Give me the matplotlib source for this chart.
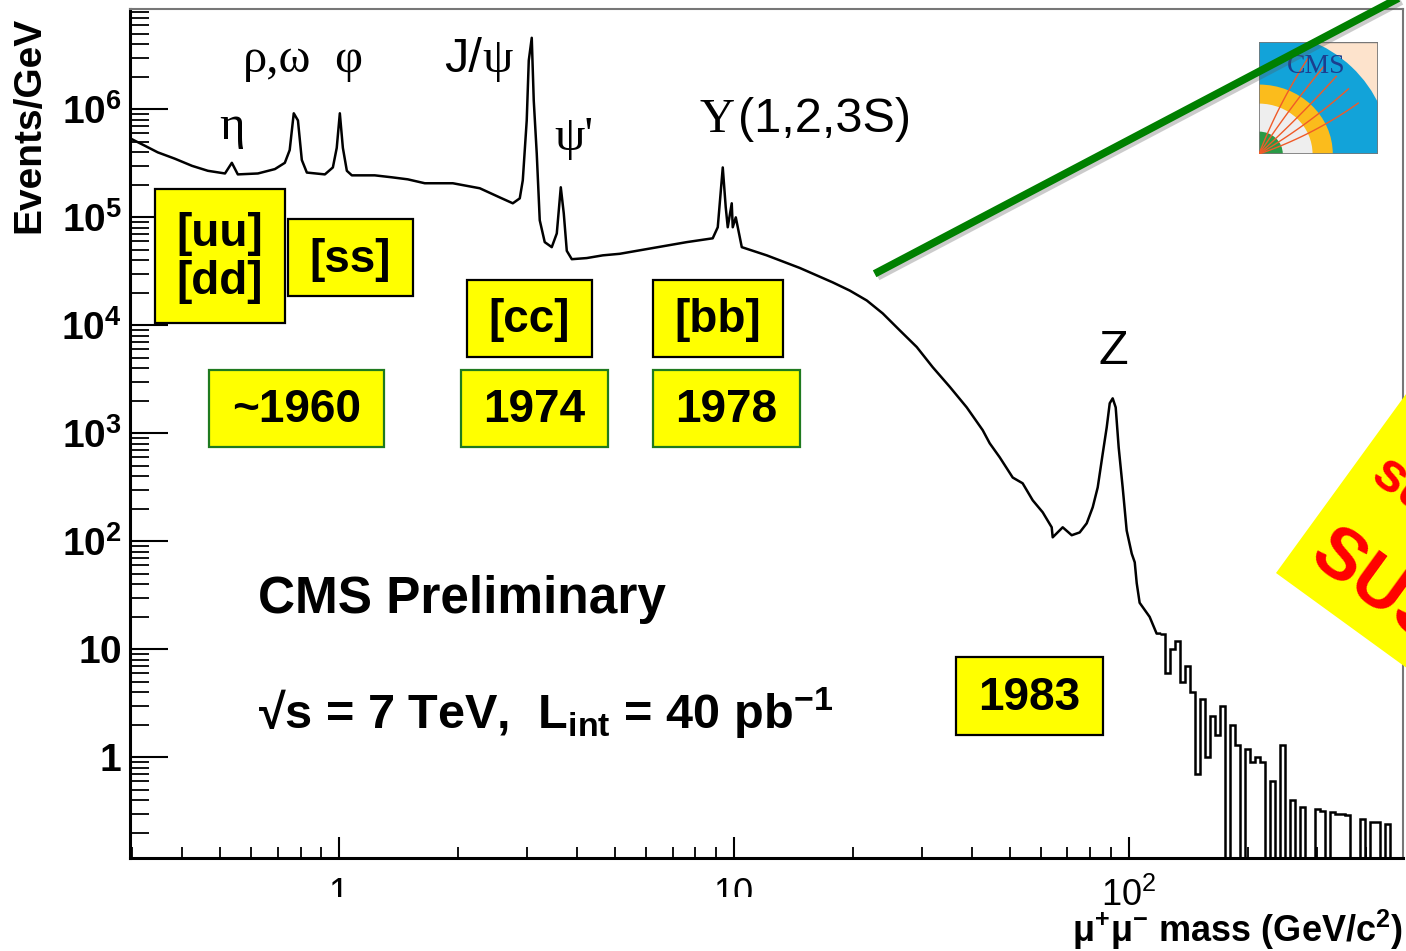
import numpy as np
import matplotlib
matplotlib.use("Agg")
import matplotlib.pyplot as plt
from matplotlib.patches import Rectangle, Polygon, Wedge
from matplotlib.ticker import FixedLocator, LogLocator, NullFormatter

W, H = 1406, 951

# dimuon invariant mass spectrum, smooth part (GeV, events/GeV)
mass = [0.296, 0.323, 0.348, 0.384, 0.425, 0.466, 0.515, 0.536, 0.555,
        0.624, 0.689, 0.730, 0.751, 0.769, 0.788, 0.806, 0.830, 0.922,
        0.966, 0.988, 1.006, 1.024, 1.048, 1.079, 1.233, 1.362, 1.495,
        1.651, 1.944, 2.275, 2.556, 2.758, 2.872, 2.923, 2.991, 3.027,
        3.080, 3.116, 3.171, 3.227, 3.322, 3.461, 3.564, 3.648, 3.712,
        3.778, 3.890, 4.245, 4.660, 5.145, 6.236, 7.603, 8.846, 9.110,
        9.380, 9.544, 9.656, 9.884, 9.942, 10.12, 10.48, 12.12, 14.70,
        17.81, 19.67, 21.72, 23.84, 26.32, 29.07, 31.90, 35.23, 38.90,
        42.70, 44.47, 47.15, 50.86, 53.89, 57.15, 60.57, 63.84, 64.21,
        68.07, 71.74, 75.16, 78.30, 81.09, 83.48, 85.96, 87.99, 89.54,
        91.10, 92.71, 94.34, 96.56, 98.84, 101.8, 103.6, 104.8, 106.6,
        113.0, 117.7, 120.0]
events = [5.4e5, 4.6e5, 4.0e5, 3.5e5, 3.0e5, 2.7e5, 2.55e5, 3.2e5, 2.5e5,
          2.55e5, 2.8e5, 3.2e5, 4.2e5, 9.2e5, 7.9e5, 3.4e5, 2.6e5, 2.5e5,
          2.9e5, 4.4e5, 9.2e5, 4.4e5, 2.7e5, 2.45e5, 2.45e5, 2.35e5, 2.25e5,
          2.07e5, 2.07e5, 1.86e5, 1.53e5, 1.35e5, 1.5e5, 2.2e5, 7.9e5, 2.84e6,
          4.6e6, 1.21e6, 3.9e5, 9.4e4, 5.9e4, 5.3e4, 7.1e4, 1.9e5, 1.09e5,
          4.9e4, 4.1e4, 4.2e4, 4.45e4, 4.6e4, 5.2e4, 5.9e4, 6.4e4, 8.1e4,
          2.9e5, 1.24e5, 8.1e4, 1.35e5, 8.1e4, 1.0e5, 5.3e4, 4.45e4, 3.4e4,
          2.5e4, 2.1e4, 1.7e4, 1.29e4, 9.0e3, 6.3e3, 4.1e3, 2.7e3, 1.74e3,
          1070, 810, 600, 390, 345, 240, 186, 135, 109,
          135, 114, 121, 147, 207, 316, 650, 1140, 1900,
          2110, 1740, 740, 316, 126, 77, 64, 41, 27,
          20, 14, 14]

# high-mass tail, log-binned from 120 to 500 GeV (0 = empty bin)
tail_lo, tail_hi = 120.0, 500.0
tail_events = [14, 6, 10, 12, 5, 7, 4, 0.7, 3.5, 1.0,
               2.4, 1.6, 3.0, 0, 2.0, 1.3, 0, 1.2, 0.9, 1.0,
               0.9, 0, 0.6, 0, 1.3, 0, 0.4, 0, 0.35, 0,
               0, 0.33, 0.32, 0, 0.31, 0.3, 0.3, 0.29, 0, 0,
               0.27, 0, 0.25, 0.25, 0, 0.24, 0, 0, 0]

resonances = ["η", "ρ,ω", "φ", "ψ'", "Z"]
res_xy = [(232, 127), (277, 60), (348, 60), (574, 138), (1113, 352)]

box_labels = ["[uu]\n[dd]", "[ss]", "[cc]", "[bb]", "~1960", "1974", "1978", "1983"]
box_rects = [(155, 189, 285, 323), (288, 219, 413, 296), (467, 280, 592, 357),
             (653, 280, 783, 357), (209, 370, 384, 447), (461, 370, 608, 447),
             (653, 370, 800, 447), (956, 657, 1103, 735)]
box_edges = ["black", "black", "black", "black", "#1f7a1f", "#1f7a1f", "#1f7a1f", "black"]

y_ticks = [1, 10, 1e2, 1e3, 1e4, 1e5, 1e6]
y_ticklabels = [r"$\mathbf{1}$", r"$\mathbf{10}$", r"$\mathbf{10^{2}}$", r"$\mathbf{10^{3}}$",
                r"$\mathbf{10^{4}}$", r"$\mathbf{10^{5}}$", r"$\mathbf{10^{6}}$"]
x_ticks = [1, 10, 100]
x_ticklabels = ["1", "10", r"$\mathregular{10^{2}}$"]

SANS = "Liberation Sans"
SERIF = "Liberation Serif"
plt.rcParams["font.family"] = [SANS, "DejaVu Sans"]
plt.rcParams["mathtext.fontset"] = "custom"
plt.rcParams["mathtext.rm"] = SANS
plt.rcParams["mathtext.bf"] = SANS + ":bold"
plt.rcParams["mathtext.it"] = SANS + ":italic"


def fpos(px, py):
    return px / W, 1 - py / H


fig = plt.figure(figsize=(W / 100, H / 100), dpi=100)
ax = fig.add_axes([130 / W, 1 - 858 / H, (1403 - 130) / W, (858 - 9) / H])
ax.set_xscale("log")
ax.set_yscale("log")
ax.set_xlim(0.296, 495)
ax.set_ylim(0.117, 8.5e6)

ax.plot(mass, events, color="black", lw=1.8, zorder=3)

edges = np.geomspace(tail_lo, tail_hi, len(tail_events) + 1)
tail = np.array(tail_events, dtype=float)
tail = np.where(tail > 0, tail, 1e-3)
ax.stairs(tail, edges, color="black", lw=1.8, baseline=None, zorder=3)
ax.plot([mass[-1], edges[0]], [events[-1], tail[0]], color="black", lw=1.8)

for s in ["left", "bottom"]:
    ax.spines[s].set_linewidth(2.2)
    ax.spines[s].set_color("black")
for s in ["top", "right"]:
    ax.spines[s].set_linewidth(1.5)
    ax.spines[s].set_color("#777777")

ax.yaxis.set_major_locator(FixedLocator(y_ticks))
ax.yaxis.set_ticklabels(y_ticklabels)
ax.yaxis.set_minor_locator(LogLocator(base=10, subs=range(2, 10), numticks=20))
ax.yaxis.set_minor_formatter(NullFormatter())
ax.xaxis.set_major_locator(FixedLocator(x_ticks))
ax.xaxis.set_ticklabels(x_ticklabels)
ax.xaxis.set_minor_locator(LogLocator(base=10, subs=range(2, 10), numticks=20))
ax.xaxis.set_minor_formatter(NullFormatter())

ax.tick_params(axis="y", which="major", direction="in", length=27, width=1.5,
               labelsize=28, pad=6)
ax.tick_params(axis="y", which="minor", direction="in", length=14, width=1.3)
ax.tick_params(axis="x", which="major", direction="in", length=15, width=1.5,
               labelsize=26, pad=14)
ax.tick_params(axis="x", which="minor", direction="in", length=8, width=1.3)

# axis titles
fig.text(*fpos(29, 125), "Events/GeV", rotation=90, ha="center", va="center",
         fontsize=28, fontweight="bold")
fig.text(*fpos(1403, 930),
         r"$\mathregular{\mu^{+}\mu^{-}}$ mass (GeV/c$^{\mathregular{2}}$)",
         ha="right", va="center", fontsize=26, fontweight="bold")

# resonance names
for name, (px, py) in zip(resonances, res_xy):
    fam = SANS if name == "Z" else SERIF
    fig.text(*fpos(px, py), name, ha="center", va="center", fontsize=35, family=fam)
fig.text(*fpos(482, 60), "J/", ha="right", va="center", fontsize=35, family=SANS)
fig.text(*fpos(482, 60), "ψ", ha="left", va="center", fontsize=35, family=SERIF)
fig.text(*fpos(735, 120), "Υ", ha="right", va="center", fontsize=35, family=SERIF)
fig.text(*fpos(738, 120), "(1,2,3S)", ha="left", va="center", fontsize=35, family=SANS)

fig.text(258 / W, 1 - 600 / H, "CMS Preliminary", ha="left", va="center",
         fontsize=37, fontweight="bold")
fig.text(258 / W, 1 - 713 / H,
         r"√s = 7 TeV,  L$_{\mathregular{int}}$ = 40 pb$^{\mathregular{-1}}$",
         ha="left", va="center", fontsize=35, fontweight="bold")

# quark content and discovery year boxes
for label, (x0, y0, x1, y1), ec in zip(box_labels, box_rects, box_edges):
    fig.patches.append(Rectangle(fpos(x0, y1), (x1 - x0) / W, (y1 - y0) / H,
                                 transform=fig.transFigure, facecolor="#ffff00",
                                 edgecolor=ec, lw=1.6, zorder=5))
    fig.text(*fpos((x0 + x1) / 2, (y0 + y1) / 2 + 2), label, ha="center", va="center",
             fontsize=33, fontweight="bold", zorder=6, linespacing=1.1)

# hide lower half of the 1 and 10 labels
fig.patches.append(Rectangle(fpos(250, 951), 550 / W, 54 / H, transform=fig.transFigure,
                             facecolor="white", edgecolor="none", zorder=7))

# green pointer line with a faint shadow
gx = [878, 1395]
gy = [272, 0]
fig.lines.append(plt.Line2D([fpos(x + 3, 0)[0] for x in gx], [fpos(0, y + 3)[1] for y in gy],
                            transform=fig.transFigure, color="#555555", alpha=0.3, lw=5.5,
                            zorder=8))
fig.lines.append(plt.Line2D([fpos(x, 0)[0] for x in gx], [fpos(0, y)[1] for y in gy],
                            transform=fig.transFigure, color="#008000", lw=5.5, zorder=9))

# rotated SUSY tag at the right edge
c, s = np.cos(np.radians(36)), np.sin(np.radians(36))
L = np.array([1276, 573])
up = np.array([s, -c]) * 240
right = np.array([c, s]) * 220
corners = [L, L + up, L + up + right, L + right]
fig.patches.append(Polygon([fpos(*p) for p in corners], closed=True,
                           transform=fig.transFigure, facecolor="#ffff00",
                           edgecolor="none", zorder=5))
fig.text(*fpos(1376, 468), "super", rotation=-36, rotation_mode="anchor", ha="left",
         va="center", fontsize=40, fontweight="bold", color="#ff0000", zorder=6)
fig.text(*fpos(1318, 545), "SUSY", rotation=-36, rotation_mode="anchor", ha="left",
         va="center", fontsize=52, fontweight="bold", color="#ff0000", zorder=6)

# CMS logo
lax = fig.add_axes([1259 / W, 1 - 154 / H, 119 / W, 112 / H])
lax.set_xlim(0, 1)
lax.set_ylim(0, 1)
lax.axis("off")
lax.add_patch(Rectangle((0, 0), 1, 1, facecolor="#fde3cc", edgecolor="#777777", lw=1))
lax.add_patch(Wedge((0, 0), 1.1, 0, 90, facecolor="#12a3d9"))
lax.add_patch(Wedge((0, 0), 0.62, 0, 90, facecolor="#fbbc1c"))
lax.add_patch(Wedge((0, 0), 0.45, 0, 90, facecolor="#eeeeee"))
lax.add_patch(Wedge((0, 0), 0.2, 0, 90, facecolor="#2a9a46"))
t = np.linspace(0, 1, 40)
for ang, bend in [(20, 0.15), (32, 0.1), (44, 0.05), (58, -0.05), (70, -0.1)]:
    a = np.radians(ang)
    r = t * 0.95
    lax.plot(r * np.cos(a + bend * t), r * np.sin(a + bend * t), color="#f05a28", lw=1)
lax.text(0.48, 0.78, "CMS", ha="center", va="center", fontsize=20, color="#1b3f8f",
         family=SERIF)
lax.add_patch(Rectangle((0, 0), 1, 1, facecolor="none", edgecolor="#777777", lw=1.2))

fig.savefig("out.png", dpi=100)
